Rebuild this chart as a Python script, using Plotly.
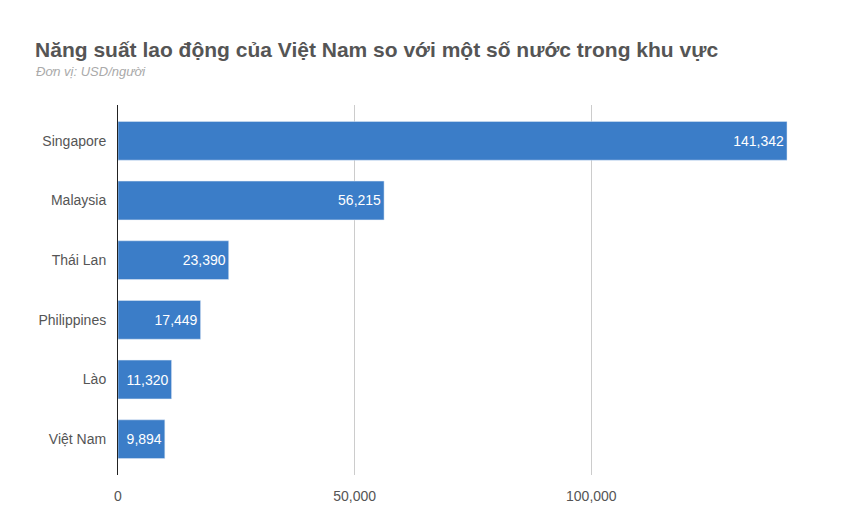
import plotly.graph_objects as go

countries = ["Singapore", "Malaysia", "Thái Lan", "Philippines", "Lào", "Việt Nam"]
values = [141342, 56215, 23390, 17449, 11320, 9894]
tick_vals = [0, 50000, 100000, 150000]
tick_text = ["0", "50,000", "100,000", ""]

fig = go.Figure(go.Bar(
    y=countries[::-1], x=values[::-1], orientation="h",
    marker_color="#3b7dc8",
    text=[f"{v:,}" for v in values[::-1]], textposition="inside",
    insidetextanchor="end", textfont=dict(color="white", size=14, family="Liberation Sans"),
    cliponaxis=False,
))
fig.update_layout(
    width=846, height=523, paper_bgcolor="white", plot_bgcolor="white",
    margin=dict(l=110, r=26, t=97, b=56, autoexpand=False),
    bargap=0.35, showlegend=False,
    font=dict(family="Liberation Sans", color="#555"),
    title=dict(text="<b>Năng suất lao động của Việt Nam so với một số nước trong khu vực</b>",
               xref="container", x=0.032, xanchor="left", yref="container", y=0.92, yanchor="middle",
               font=dict(size=21, color="#555")),
    annotations=[dict(text="<i>Đơn vị: USD/người</i>", xref="paper", yref="paper",
                      x=-0.118, y=1.09, xanchor="left", yanchor="middle", showarrow=False,
                      font=dict(size=13, color="#aaa"))],
    xaxis=dict(range=[0, 150000], tickvals=tick_vals, ticktext=tick_text,
               showgrid=True, gridcolor="#ccc", zeroline=False,
               tickfont=dict(size=14, color="#555"), ticklen=8, ticks="outside",
               tickcolor="white"),
    yaxis=dict(range=[-0.6, 5.6], showline=True, linecolor="#222", linewidth=1,
               tickfont=dict(size=14, color="#555"), ticks="outside", ticklen=8,
               tickcolor="white"),
)
fig.write_html("out.html")
